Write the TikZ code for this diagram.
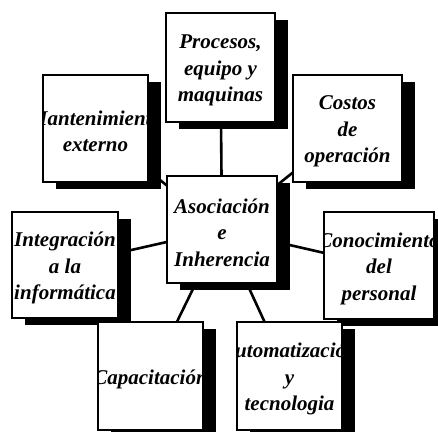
\documentclass[tikz,border=0pt]{standalone}
\usepackage{fontspec}
\setmainfont{Liberation Serif}
\usetikzlibrary{shadows,backgrounds}

\tikzset{
  card/.style={rectangle, draw=black, line width=1.4pt, fill=white, inner sep=0pt,
    general shadow={fill=black, shadow xshift=13pt, shadow yshift=-7pt}},
  cardtext/.style={align=center, inner sep=0pt,
    font=\fontsize{21}{26.5}\selectfont\bfseries\itshape},
  link/.style={line width=2.6pt, draw=black},
}

% box with drop shadow; its text is cut off at the box edges
% #1 name, #2 x, #3 y, #4 width, #5 height, #6 text
\newcommand{\cardbox}[6]{%
  \node[card, minimum width=#4pt, minimum height=#5pt] (#1) at (#2,#3) {};
  \begin{scope}
    \clip (#1.south west) rectangle (#1.north east);
    \node[cardtext] (#1-text) at ([yshift=-3pt]#1.center) {#6};
  \end{scope}
}

\begin{document}
\begin{tikzpicture}[x=1pt, y=-1pt]
  \useasboundingbox (0,0) rectangle (438,431);

  \cardbox{proc}{220.5}{67.5}{109}{109}{Procesos,\\equipo y\\maquinas}
  \cardbox{mant}{95.5}{128.5}{105}{107}{Mantenimiento\\externo}
  \cardbox{cost}{347.5}{128.5}{109}{107}{Costos\\de\\operación}
  \cardbox{asoc}{222}{229.5}{110}{107}{Asociación\\e\\Inherencia}
  \cardbox{integ}{65}{265}{106}{106}{Integración\\a la\\informática}
  \cardbox{conoc}{379}{265.5}{110}{107}{Conocimiento\\del\\personal}
  \cardbox{capac}{150.5}{376}{105}{108}{Capacitación}
  \cardbox{autom}{289.5}{376}{105}{108}{Automatización\\y\\tecnologia}

  % spokes from the central box to every other box
  \begin{scope}[on background layer]
    \foreach \n in {proc, mant, cost, integ, conoc, capac, autom}
      \draw[link] (asoc.center) -- (\n.center);
  \end{scope}
\end{tikzpicture}
\end{document}
